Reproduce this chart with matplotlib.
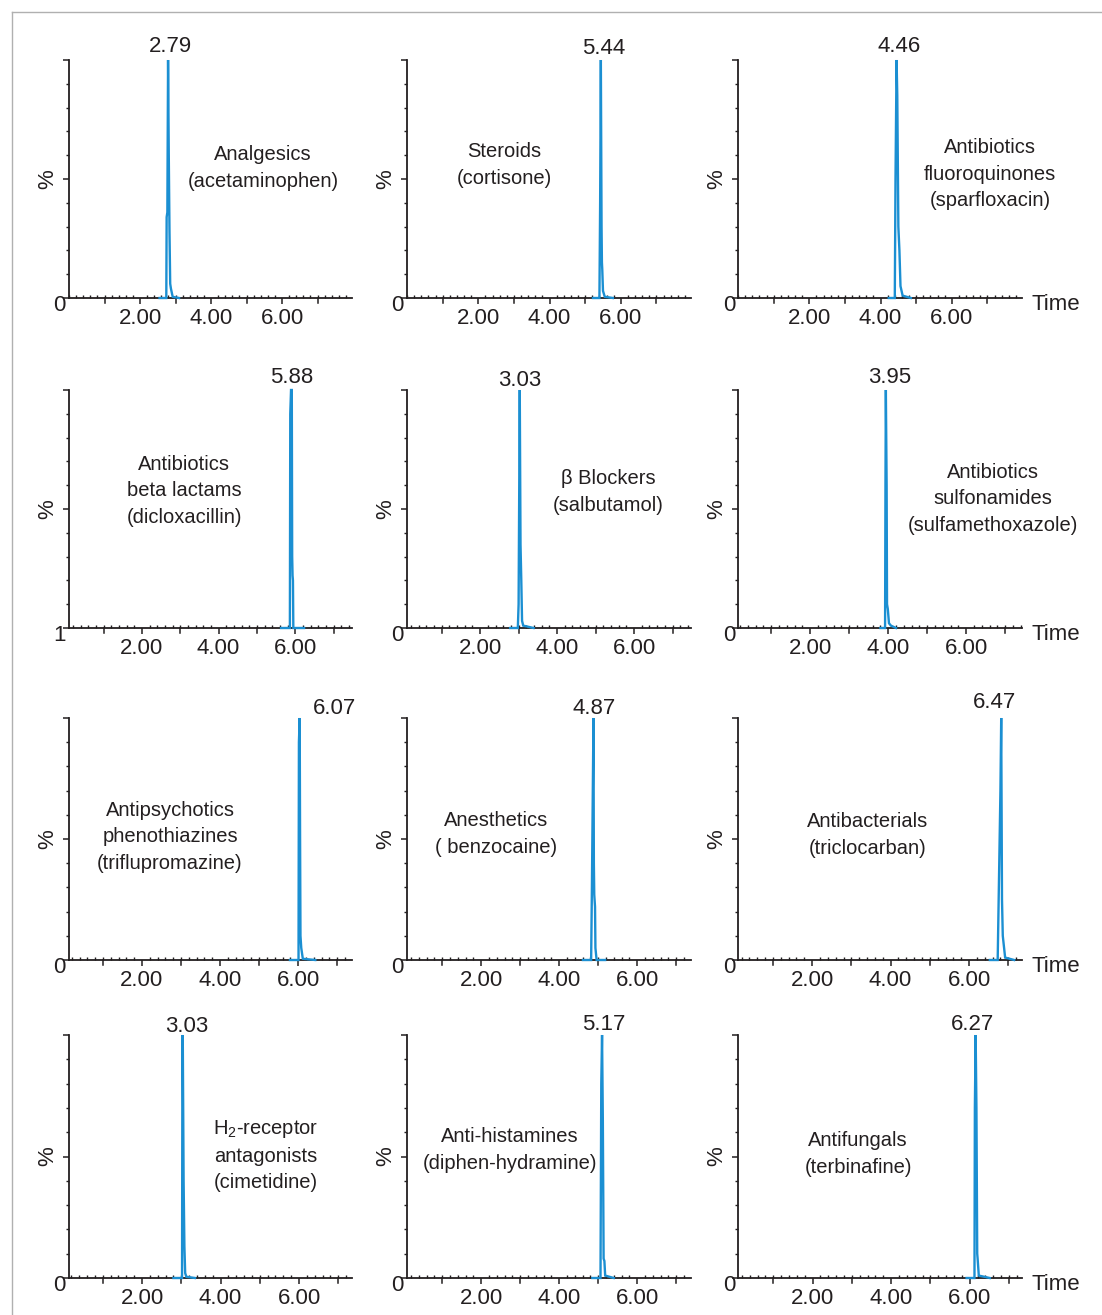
import matplotlib
matplotlib.use('Agg')
import matplotlib.pyplot as plt
from matplotlib.ticker import MultipleLocator
from matplotlib.lines import Line2D

plt.rcParams['font.family'] = ['Liberation Sans', 'DejaVu Sans']
plt.rcParams['mathtext.default'] = 'regular'

W, H = 1102, 1315
TRACE_COLOR = '#1b8fd2'
TEXT_COLOR = '#231f20'

# compound class labels, one per panel (row by row)
class_labels = [
    'Analgesics\n(acetaminophen)',
    'Steroids\n(cortisone)',
    'Antibiotics\nfluoroquinones\n(sparfloxacin)',
    'Antibiotics\nbeta lactams\n(dicloxacillin)',
    'β Blockers\n(salbutamol)',
    'Antibiotics\nsulfonamides\n(sulfamethoxazole)',
    'Antipsychotics\nphenothiazines\n(triflupromazine)',
    'Anesthetics\n( benzocaine)',
    'Antibacterials\n(triclocarban)',
    'H$_2$-receptor\nantagonists\n(cimetidine)',
    'Anti-histamines\n(diphen-hydramine)',
    'Antifungals\n(terbinafine)',
]

# retention time written above each peak
peak_labels = ['2.79', '5.44', '4.46',
               '5.88', '3.03', '3.95',
               '6.07', '4.87', '6.47',
               '3.03', '5.17', '6.27']

# baseline value printed at y=0
base_labels = ['0', '0', '0', '1', '0', '0', '0', '0', '0', '0', '0', '0']

# traces (time in min, relative intensity %)
t1 = [2.55, 2.74, 2.75, 2.77, 2.79, 2.81, 2.83, 2.85, 2.87, 2.92, 3.10]
y1 = [0, 0, 34, 36, 100, 60, 28, 6, 4, 0.5, 0]
t2 = [5.22, 5.40, 5.42, 5.44, 5.46, 5.47, 5.48, 5.50, 5.55, 5.78]
y2 = [0, 0, 40, 100, 30, 15, 12, 3, 0.5, 0]
t3 = [4.23, 4.40, 4.42, 4.45, 4.47, 4.50, 4.53, 4.56, 4.62, 4.85]
y3 = [0, 0, 50, 100, 85, 30, 20, 5, 1, 0]
t4 = [5.63, 5.86, 5.87, 5.89, 5.91, 5.92, 5.93, 5.94, 5.95, 6.23]
y4 = [0, 0, 90, 100, 100, 30, 22, 20, 0, 0]
t5 = [2.78, 2.98, 3.00, 3.03, 3.05, 3.07, 3.09, 3.12, 3.39]
y5 = [0, 0, 10, 100, 35, 20, 3, 1, 0]
t6 = [3.80, 3.92, 3.93, 3.94, 3.96, 3.97, 3.99, 4.02, 4.07, 4.20]
y6 = [0, 0, 60, 100, 60, 10, 8, 2, 1, 0]
t7 = [5.79, 6.01, 6.02, 6.04, 6.05, 6.06, 6.08, 6.12, 6.44]
y7 = [0, 0, 90, 100, 50, 10, 5, 0.5, 0]
t8 = [4.61, 4.82, 4.84, 4.88, 4.89, 4.90, 4.92, 4.93, 4.96, 5.18]
y8 = [0, 0, 30, 100, 40, 27, 22, 5, 0, 0]
t9 = [6.53, 6.73, 6.75, 6.80, 6.82, 6.84, 6.86, 6.88, 6.92, 7.15]
y9 = [0, 0, 20, 70, 100, 25, 10, 7, 1, 0]
t10 = [2.80, 3.02, 3.03, 3.04, 3.06, 3.08, 3.10, 3.13, 3.35]
y10 = [0, 0, 100, 95, 40, 13, 2, 0.5, 0]
t11 = [4.85, 5.06, 5.08, 5.10, 5.12, 5.14, 5.16, 5.18, 5.40]
y11 = [0, 0, 80, 100, 65, 8, 7, 1, 0]
t12 = [5.92, 6.12, 6.13, 6.15, 6.17, 6.19, 6.20, 6.23, 6.51]
y12 = [0, 0, 70, 100, 70, 10, 8, 1, 0]

traces = [(t1, y1), (t2, y2), (t3, y3), (t4, y4), (t5, y5), (t6, y6),
          (t7, y7), (t8, y8), (t9, y9), (t10, y10), (t11, y11), (t12, y12)]

# visible time range of each panel
xlims = [(0.0, 7.97), (0.0, 7.97), (0.0, 7.97),
         (0.10, 7.48), (0.10, 7.48), (0.15, 7.43),
         (0.13, 7.38), (0.10, 7.38), (0.11, 7.35),
         (0.14, 7.35), (0.10, 7.38), (0.10, 7.33)]

# layout in pixels
col_left = [69, 407, 738]
col_right = [352, 691, 1022]
row_top_base = [(60, 298), (390, 628), (718, 960), (1035, 1278)]

# label centres in pixels
class_pos = [(263, 168), (504, 165), (990, 174),
             (184, 491), (608, 492), (993, 499),
             (170, 837), (496, 834), (868, 835),
             (266, 1155), (510, 1150), (858, 1154)]
peak_pos = [(170, 47), (604, 48), (899, 46),
            (292, 378), (520, 380), (890, 378),
            (334, 709), (594, 709), (994, 702),
            (187, 1026), (604, 1024), (973, 1025)]


def fig_xy(x, y):
    return x / W, 1 - y / H


fig = plt.figure(figsize=(W / 100, H / 100), dpi=100)

for i in range(12):
    r, c = divmod(i, 3)
    top, base = row_top_base[r]
    left, right = col_left[c], col_right[c]
    ax = fig.add_axes([left / W, 1 - base / H, (right - left) / W, (base - top) / H])

    t, y = traces[i]
    ax.plot(t, y, color=TRACE_COLOR, lw=1.7, clip_on=False, zorder=5,
            solid_joinstyle='miter')

    ax.set_xlim(*xlims[i])
    ax.set_ylim(0, 100)
    for s in ['top', 'right']:
        ax.spines[s].set_visible(False)
    for s in ['left', 'bottom']:
        ax.spines[s].set_linewidth(1.3)
        ax.spines[s].set_color(TEXT_COLOR)

    ax.set_xticks([2, 4, 6])
    ax.xaxis.set_minor_locator(MultipleLocator(0.2))
    ax.set_xticklabels(['2.00', '4.00', '6.00'], fontsize=16, color=TEXT_COLOR)
    ax.tick_params(axis='x', which='major', direction='out', length=4, width=1.1,
                   pad=3, color=TEXT_COLOR)
    ax.tick_params(axis='x', which='minor', direction='in', length=2.5, width=1.0,
                   color=TEXT_COLOR)
    # odd-minute ticks are longer, like the labelled ones
    for m in [1, 3, 5, 7]:
        if xlims[i][0] < m < xlims[i][1]:
            ax.add_line(Line2D([m, m], [0, -2.2], color=TEXT_COLOR, lw=1.1,
                               clip_on=False))

    ax.set_yticks([0, 50, 100])
    ax.set_yticklabels([])
    ax.yaxis.set_minor_locator(MultipleLocator(10))
    ax.tick_params(axis='y', which='major', direction='out', length=4, width=1.1,
                   color=TEXT_COLOR)
    ax.tick_params(axis='y', which='minor', direction='out', length=2.5, width=1.0,
                   color=TEXT_COLOR)

    ax.annotate(base_labels[i], xy=(0, 0), xycoords='axes fraction',
                xytext=(-3, 3), textcoords='offset pixels', ha='right', va='top',
                fontsize=16, color=TEXT_COLOR)
    ax.annotate('%', xy=(0, 0.5), xycoords='axes fraction',
                xytext=(-21, 0), textcoords='offset pixels', ha='center',
                va='center', rotation=90, fontsize=16, color=TEXT_COLOR)
    if c == 2:
        ax.annotate('Time', xy=(1, 0), xycoords='axes fraction',
                    xytext=(10, -6), textcoords='offset pixels', ha='left',
                    va='center', fontsize=16, color=TEXT_COLOR)

    fx, fy = fig_xy(*class_pos[i])
    fig.text(fx, fy, class_labels[i], ha='center', va='center', fontsize=14.5,
             color=TEXT_COLOR, linespacing=1.5)
    fx, fy = fig_xy(*peak_pos[i])
    fig.text(fx, fy, peak_labels[i], ha='center', va='center', fontsize=16,
             color=TEXT_COLOR)

# thin grey frame around the figure
fig.add_artist(Line2D([12 / W, 12 / W], [0, 1 - 12 / H], color='#b0b0b0', lw=1))
fig.add_artist(Line2D([12 / W, 1], [1 - 12 / H, 1 - 12 / H], color='#b0b0b0', lw=1))

fig.savefig('out.png', dpi=100)
